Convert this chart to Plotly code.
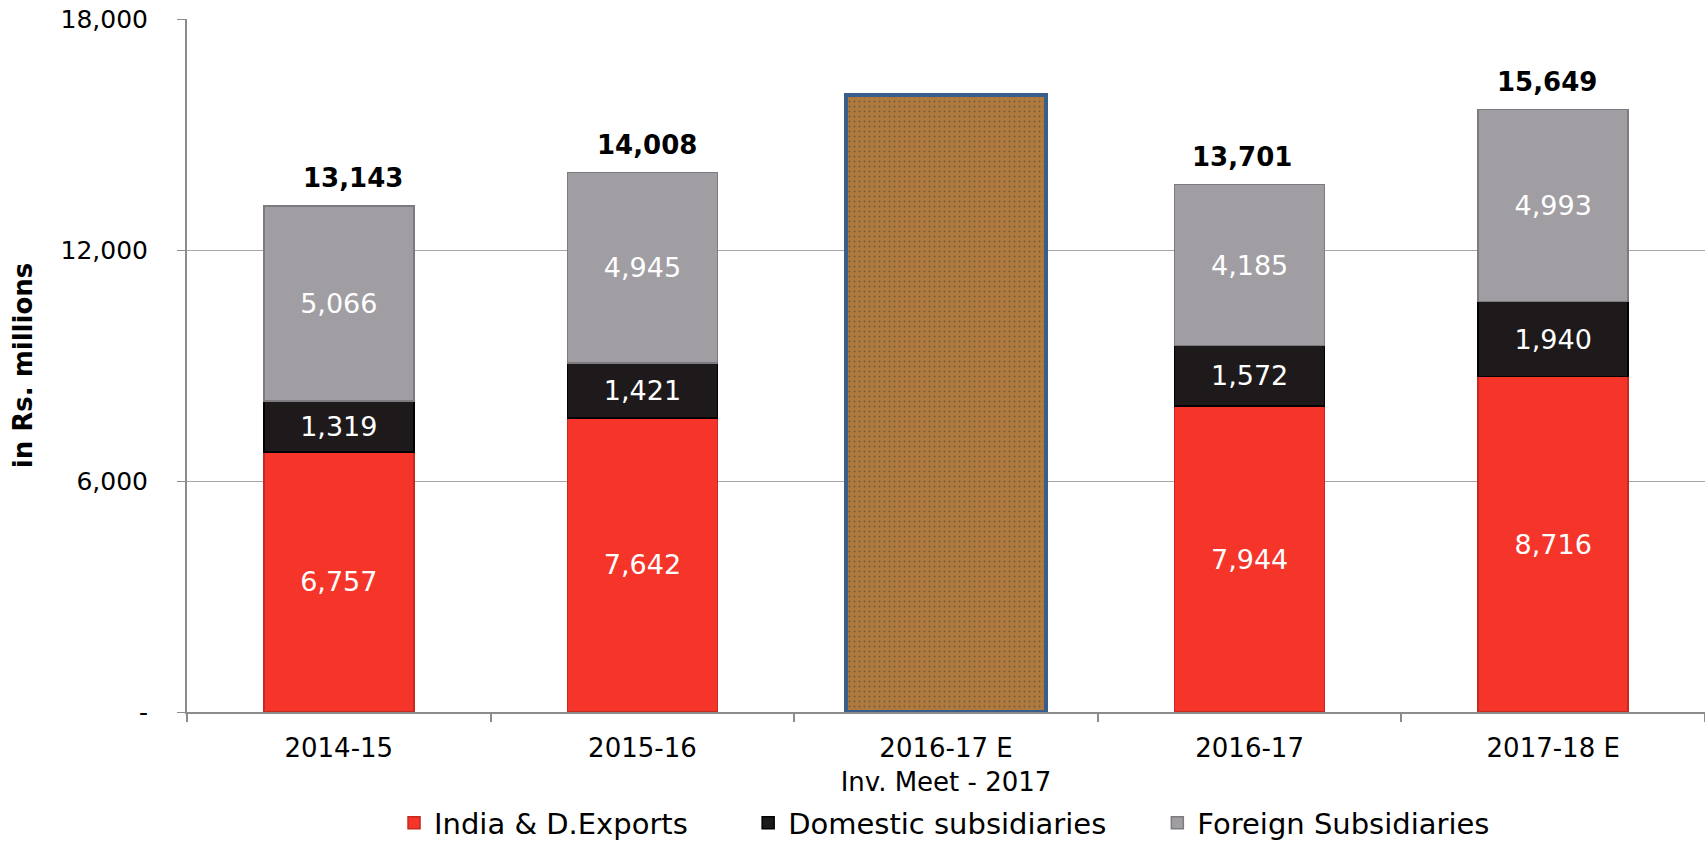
import plotly.graph_objects as go

categories = ["2014-15", "2015-16", "2016-17 E", "2016-17", "2017-18 E"]
category_labels = ["2014-15", "2015-16", "2016-17 E<br>Inv. Meet - 2017", "2016-17", "2017-18 E"]
series_names = ["India & D.Exports", "Domestic subsidiaries", "Foreign Subsidiaries"]
india_exports = [6757, 7642, None, 7944, 8716]
domestic_subs = [1319, 1421, None, 1572, 1940]
foreign_subs = [5066, 4945, None, 4185, 4993]
totals = [13143, 14008, None, 13701, 15649]
cover_height = [None, None, 16030, None, None]

y_tickvals = [0, 6000, 12000, 18000]
y_ticktext = ["-", "6,000", "12,000", "18,000"]

# small horizontal offsets of the total labels, as placed in the original
total_label_xshift = [14, 5, 0, -8, -6]

FONT = "DejaVu Sans"
NBSP = "\u00a0"

fig = go.Figure()

styles = [
    ("#F5352A", "#c42a20", NBSP * 6),
    ("#1E1A1B", "#000000", NBSP * 5),
    ("#A09EA2", "#7d7b7f", ""),
]
for name, vals, (col, lcol, pad) in zip(series_names, [india_exports, domestic_subs, foreign_subs], styles):
    fig.add_trace(go.Bar(
        x=categories, y=vals, name=name + pad, width=0.494,
        marker=dict(color=col, line=dict(color=lcol, width=1.5)),
        texttemplate="%{y:,}", textposition="inside", insidetextanchor="middle",
        textangle=0, constraintext="none",
        textfont=dict(family=FONT, size=27, color="white"),
        hoverinfo="skip",
    ))

fig.add_trace(go.Bar(
    x=categories, y=cover_height, width=0.66, showlegend=False,
    marker=dict(color="#B07A3E", line=dict(color="#3A5E8C", width=4),
                pattern=dict(shape=".", bgcolor="#B07A3E", fgcolor="#2f3f3a",
                             size=5, solidity=0.12, fillmode="overlay")),
    hoverinfo="skip",
))

for c, t, dx in zip(categories, totals, total_label_xshift):
    if t is None:
        continue
    fig.add_annotation(x=c, y=t, text=f"<b>{t:,}</b>", showarrow=False,
                       yanchor="bottom", yshift=11, xshift=dx,
                       font=dict(family=FONT, size=26, color="black"))

fig.update_layout(
    barmode="stack",
    width=1705, height=844,
    margin=dict(l=187, r=0, t=19, b=132, autoexpand=False),
    plot_bgcolor="white", paper_bgcolor="white",
    font=dict(family=FONT, color="black"),
    legend=dict(orientation="h", xref="container", yref="container",
                x=0.2311, xanchor="left", y=0.0249, yanchor="middle",
                font=dict(family=FONT, size=29), traceorder="normal"),
    xaxis=dict(tickmode="array", tickvals=categories, ticktext=category_labels,
               tickfont=dict(family=FONT, size=26), showline=True, linecolor="#8C8C8C",
               linewidth=2, ticks="outside", tickson="boundaries", ticklen=8,
               tickcolor="#8C8C8C", tickwidth=2, showgrid=False, ticklabelstandoff=12,
               automargin=False),
    yaxis=dict(range=[0, 18000], tickmode="array", tickvals=y_tickvals, ticktext=y_ticktext,
               tickfont=dict(family=FONT, size=25), showline=True, linecolor="#8C8C8C",
               linewidth=2, ticks="outside", ticklen=8, tickcolor="#8C8C8C",
               showgrid=True, gridcolor="#A6A6A6", gridwidth=1, zeroline=False,
               ticklabelstandoff=24, ticklabeloverflow="allow", automargin=False,
               title=dict(text="<b>in Rs. millions</b>", font=dict(family=FONT, size=26),
                          standoff=20)),
)

fig.write_html(
    "out.html",
    config={"displayModeBar": False},
    post_script="document.body.style.margin='0';document.body.style.overflow='hidden';",
)
